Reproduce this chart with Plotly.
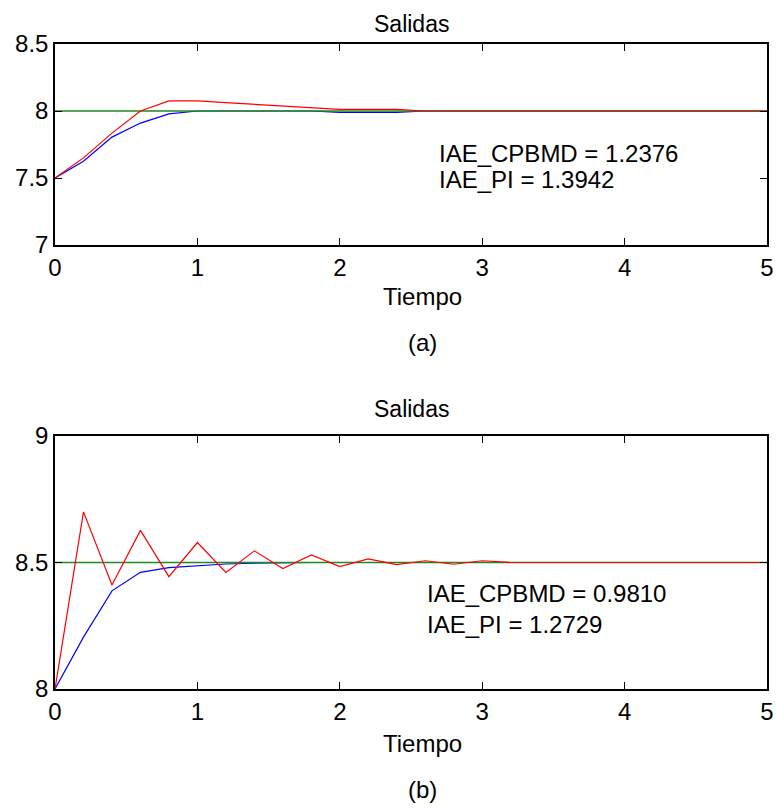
import plotly.graph_objects as go

# ---- data ----
tiempo = [0.0, 0.2, 0.4, 0.6, 0.8, 1.0, 1.2, 1.4, 1.6, 1.8, 2.0, 2.2, 2.4,
          2.6, 2.8, 3.0, 3.2, 3.4, 3.6, 3.8, 4.0, 4.2, 4.4, 4.6, 4.8, 5.0]

ref_a = [8.0] * 26
cpbmd_a = [7.5, 7.65, 7.835, 8.0, 8.075, 8.075, 8.0625, 8.05, 8.0375, 8.025,
           8.0125, 8.0125, 8.0125, 8.0, 8.0, 8.0, 8.0, 8.0, 8.0, 8.0,
           8.0, 8.0, 8.0, 8.0, 8.0, 8.0]
pi_a = [7.5, 7.625, 7.805, 7.91, 7.978, 8.0, 8.0, 8.0, 8.0, 8.0,
        7.99, 7.99, 7.99, 8.0, 8.0, 8.0, 8.0, 8.0, 8.0, 8.0,
        8.0, 8.0, 8.0, 8.0, 8.0, 8.0]

ref_b = [8.5] * 26
cpbmd_b = [8.0, 8.70, 8.411, 8.627, 8.444, 8.579, 8.461, 8.546, 8.476, 8.530,
           8.484, 8.514, 8.492, 8.507, 8.493, 8.507, 8.5, 8.5, 8.5, 8.5,
           8.5, 8.5, 8.5, 8.5, 8.5, 8.5]
pi_b = [8.0, 8.205, 8.388, 8.461, 8.480, 8.488, 8.494, 8.497, 8.499, 8.5,
        8.5, 8.5, 8.5, 8.5, 8.5, 8.5, 8.5, 8.5, 8.5, 8.5,
        8.5, 8.5, 8.5, 8.5, 8.5, 8.5]

x_ticks = [0, 1, 2, 3, 4, 5]
y_ticks_a = [7, 7.5, 8, 8.5]
y_ticks_a_text = ["7", "7.5", "8", "8.5"]
y_ticks_b = [8, 8.5, 9]
y_ticks_b_text = ["8", "8.5", "9"]

iae_a = ["IAE_CPBMD = 1.2376", "IAE_PI = 1.3942"]
iae_b = ["IAE_CPBMD = 0.9810", "IAE_PI = 1.2729"]

# ---- layout helpers ----
W, H = 776, 811
FONT = "Liberation Sans, Arial, sans-serif"


def px(x):
    return x / W


def py(y):
    return 1 - y / H


fig = go.Figure()

for xa, ya, ref, c, p in [("x", "y", ref_a, cpbmd_a, pi_a), ("x2", "y2", ref_b, cpbmd_b, pi_b)]:
    fig.add_trace(go.Scatter(x=tiempo, y=p, mode="lines", line=dict(color="#0000ff", width=1.2),
                             xaxis=xa, yaxis=ya, showlegend=False))
    fig.add_trace(go.Scatter(x=tiempo, y=ref, mode="lines", line=dict(color="#1f8a1f", width=1.5),
                             xaxis=xa, yaxis=ya, showlegend=False))
    fig.add_trace(go.Scatter(x=tiempo, y=c, mode="lines", line=dict(color="#ff0000", width=1.2),
                             xaxis=xa, yaxis=ya, showlegend=False))

axis_common = dict(showgrid=False, zeroline=False, showline=True, linecolor="black", linewidth=1.5,
                   mirror="ticks", ticks="inside", ticklen=7, tickcolor="black", tickwidth=1,
                   automargin=False, ticklabeloverflow="allow",
                   tickfont=dict(family=FONT, size=24, color="black"))

fig.update_layout(
    width=W, height=H,
    margin=dict(l=0, r=0, t=0, b=0),
    paper_bgcolor="white", plot_bgcolor="white",
    xaxis=dict(domain=[px(55), px(767)], range=[0, 5], tickvals=x_ticks, anchor="y", **axis_common),
    yaxis=dict(domain=[py(245), py(44)], range=[7, 8.5], tickvals=y_ticks_a, ticktext=y_ticks_a_text,
               anchor="x", **axis_common),
    xaxis2=dict(domain=[px(55), px(767)], range=[0, 5], tickvals=x_ticks, anchor="y2", **axis_common),
    yaxis2=dict(domain=[py(689), py(436)], range=[8, 9], tickvals=y_ticks_b, ticktext=y_ticks_b_text,
                anchor="x2", **axis_common),
)

annots = []


def txt(x, y, s, size, xanchor="center"):
    annots.append(dict(x=px(x), y=py(y), xref="paper", yref="paper", text=s, showarrow=False,
                       xanchor=xanchor, yanchor="middle",
                       font=dict(family=FONT, size=size, color="black")))


txt(411, 24, "Salidas", 23)
txt(423, 296, "Tiempo", 24)
txt(423, 342, "(a)", 24)
txt(437, 153, iae_a[0], 24, "left")
txt(437, 180, iae_a[1], 24, "left")

txt(411, 409, "Salidas", 23)
txt(423, 743, "Tiempo", 24)
txt(423, 789, "(b)", 24)
txt(425, 593, iae_b[0], 24, "left")
txt(425, 624, iae_b[1], 24, "left")

fig.update_layout(annotations=annots)

# remove the default page margin so the figure fills the window exactly
fig.write_html(
    "out.html",
    config={"displayModeBar": False},
    post_script="document.body.style.margin='0';document.documentElement.style.overflow='hidden';",
)
